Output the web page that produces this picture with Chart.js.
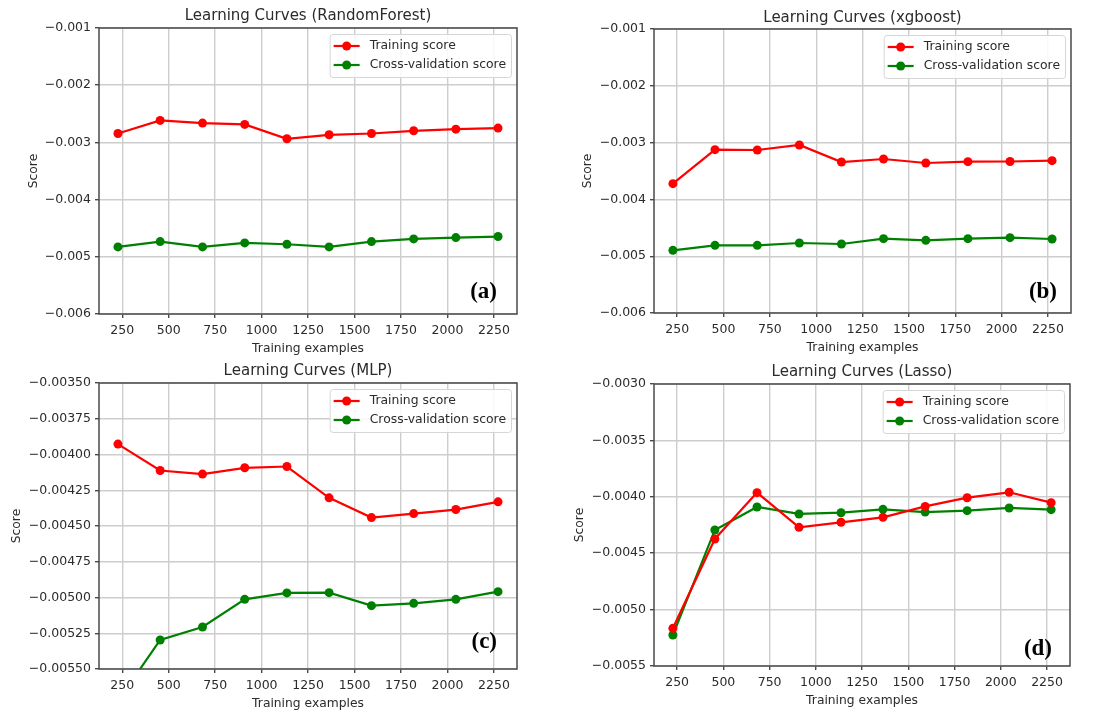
<!DOCTYPE html>
<html>
<head>
<meta charset="utf-8">
<script src="https://cdn.jsdelivr.net/npm/chart.js@4/dist/chart.umd.min.js"></script>
<style>
    body { margin: 0; background: #fff; width: 1096px; height: 713px; position: relative; overflow: hidden; }
    canvas { position: absolute; }
</style>
</head>
<body>
<canvas id="rf" width="548" height="357" style="left:0;top:0"></canvas>
<canvas id="xgb" width="548" height="357" style="left:548px;top:0"></canvas>
<canvas id="mlp" width="548" height="357" style="left:0;top:356px"></canvas>
<canvas id="lasso" width="548" height="357" style="left:548px;top:356px"></canvas>
<script>
"use strict";

// training set sizes (shared by all four panels)
const trainSizes = [227, 454, 682, 909, 1136, 1363, 1591, 1818, 2045, 2272];
const xTicks = [250, 500, 750, 1000, 1250, 1500, 1750, 2000, 2250];

// (a) RandomForest
const rfTrain = [-0.002844, -0.002616, -0.002663, -0.002686, -0.002937, -0.002867, -0.002844, -0.002797, -0.002768, -0.00275];
const rfCv = [-0.004827, -0.004734, -0.004827, -0.004757, -0.004781, -0.004827, -0.004734, -0.004687, -0.004664, -0.004646];
const rfTicks = [-0.006, -0.005, -0.004, -0.003, -0.002, -0.001];

// (b) xgboost
const xgbTrain = [-0.003723, -0.003124, -0.00313, -0.003042, -0.003342, -0.003289, -0.003359, -0.003336, -0.003333, -0.003318];
const xgbCv = [-0.004897, -0.004809, -0.004809, -0.004768, -0.004785, -0.004691, -0.004721, -0.004691, -0.004674, -0.004697];
const xgbTicks = [-0.006, -0.005, -0.004, -0.003, -0.002, -0.001];

// (c) MLP
const mlpTrain = [-0.003927, -0.004112, -0.004137, -0.004093, -0.004084, -0.004303, -0.004441, -0.004413, -0.004385, -0.004331];
const mlpCv = [-0.005724, -0.005297, -0.005206, -0.005013, -0.004968, -0.004966, -0.005057, -0.005041, -0.005013, -0.004959];
const mlpTicks = [-0.0055, -0.00525, -0.005, -0.00475, -0.0045, -0.00425, -0.004, -0.00375, -0.0035];

// (d) Lasso
const lassoTrain = [-0.005166, -0.004374, -0.003963, -0.004271, -0.004226, -0.004182, -0.004085, -0.004008, -0.00396, -0.004052];
const lassoCv = [-0.005225, -0.004294, -0.00409, -0.004152, -0.004141, -0.004111, -0.004135, -0.004123, -0.004099, -0.004114];
const lassoTicks = [-0.0055, -0.005, -0.0045, -0.004, -0.0035, -0.003];

const FONT = '"DejaVu Sans", sans-serif';
const TEXT = "#2b2b2b";
const GRID = "#cdcdcd";

const toPoints = (ys) => trainSizes.map((x, i) => ({x: x, y: ys[i]}));

// matplotlib-style legend inside the axes, upper right
const insideLegend = {
    id: "insideLegend",
    afterDatasetsDraw(chart) {
        const {ctx, chartArea} = chart;
        const sets = chart.data.datasets;
        ctx.save();
        ctx.font = "12.4px " + FONT;
        const textW = Math.max(...sets.map(d => ctx.measureText(d.label).width));
        const w = 45 + textW;
        const h = 43;
        const x0 = chartArea.right - 6 - w;
        const y0 = chartArea.top + 6;
        ctx.beginPath();
        ctx.roundRect(x0 + 0.5, y0 + 0.5, w, h, 3);
        ctx.fillStyle = "rgba(255,255,255,0.85)";
        ctx.fill();
        ctx.strokeStyle = "#d6d6d6";
        ctx.lineWidth = 1;
        ctx.stroke();
        sets.forEach((d, i) => {
            const cy = y0 + 12 + i * 19;
            ctx.strokeStyle = d.borderColor;
            ctx.lineWidth = 2.2;
            ctx.beginPath();
            ctx.moveTo(x0 + 4, cy);
            ctx.lineTo(x0 + 30, cy);
            ctx.stroke();
            ctx.fillStyle = d.backgroundColor;
            ctx.beginPath();
            ctx.arc(x0 + 17, cy, 4.5, 0, Math.PI * 2);
            ctx.fill();
            ctx.fillStyle = TEXT;
            ctx.textBaseline = "middle";
            ctx.fillText(d.label, x0 + 40, cy);
        });
        ctx.restore();
    },
};

// frame around the plot area plus the bold panel letter
const frameAndTag = {
    id: "frameAndTag",
    afterDraw(chart, args, opts) {
        const {ctx, chartArea} = chart;
        ctx.save();
        ctx.strokeStyle = "#4a4a4a";
        ctx.lineWidth = 1.5;
        ctx.strokeRect(chartArea.left, chartArea.top, chartArea.width, chartArea.height);
        ctx.font = 'bold 23px "Liberation Serif", "Times New Roman", serif';
        ctx.fillStyle = "#000";
        ctx.textAlign = "right";
        ctx.textBaseline = "middle";
        ctx.fillText(opts.tag, chartArea.right - opts.inset, chartArea.bottom - opts.rise);
        ctx.restore();
    },
};

const makePanel = (id, p) => {
    const fmt = (v) => v.toFixed(p.decimals).replace("-", "\u2212");
    new Chart(document.getElementById(id), {
        type: "line",
        data: {
            datasets: [
                {
                    label: "Training score",
                    data: toPoints(p.train),
                    borderColor: "#ff0000",
                    backgroundColor: "#ff0000",
                    borderWidth: 2.2,
                    pointRadius: 4.5,
                    pointBorderWidth: 0,
                },
                {
                    label: "Cross-validation score",
                    data: toPoints(p.cv),
                    borderColor: "#008000",
                    backgroundColor: "#008000",
                    borderWidth: 2.2,
                    pointRadius: 4.5,
                    pointBorderWidth: 0,
                },
            ],
        },
        options: {
            responsive: false,
            animation: false,
            layout: {padding: {left: 0, top: 0, right: p.padRight, bottom: 0}},
            plugins: {
                legend: {display: false},
                tooltip: {enabled: false},
                title: {
                    display: true,
                    fullSize: false,
                    text: p.title,
                    color: TEXT,
                    font: {family: FONT, size: 15, weight: "normal", lineHeight: 1.2},
                    padding: {top: p.titleY - 8, bottom: p.plotTop - p.titleY - 10},
                },
                frameAndTag: {tag: p.tag, inset: p.tagInset, rise: p.tagRise},
            },
            scales: {
                x: {
                    type: "linear",
                    min: 125,
                    max: 2374,
                    afterBuildTicks: (axis) => { axis.ticks = xTicks.map(v => ({value: v})); },
                    afterFit: (axis) => { axis.height = p.xHeight; },
                    grid: {color: GRID, lineWidth: 1.4, tickColor: "#4a4a4a", tickLength: 4},
                    border: {display: false},
                    ticks: {color: TEXT, font: {family: FONT, size: 12.5}, padding: 5, maxRotation: 0, callback: (v) => String(v)},
                    title: {
                        display: true,
                        text: "Training examples",
                        color: TEXT,
                        font: {family: FONT, size: 12.3, lineHeight: 1.2},
                        padding: {top: 0, bottom: p.xHeight - 35 - 7},
                    },
                },
                y: {
                    type: "linear",
                    min: p.ticks[0],
                    max: p.ticks[p.ticks.length - 1],
                    afterBuildTicks: (axis) => { axis.ticks = p.ticks.map(v => ({value: v})); },
                    afterFit: (axis) => { axis.width = p.yWidth; },
                    grid: {color: GRID, lineWidth: 1.4, tickColor: "#4a4a4a", tickLength: 4},
                    border: {display: false},
                    ticks: {color: TEXT, font: {family: FONT, size: 12.5}, padding: 4, callback: fmt},
                    title: {
                        display: true,
                        text: "Score",
                        color: TEXT,
                        font: {family: FONT, size: 12.3, lineHeight: 1.2},
                        padding: {top: p.scoreX - 7, bottom: 0},
                    },
                },
            },
        },
        plugins: [insideLegend, frameAndTag],
    });
};

makePanel("rf", {
    title: "Learning Curves (RandomForest)", tag: "(a)", train: rfTrain, cv: rfCv, ticks: rfTicks, decimals: 3,
    yWidth: 99, padRight: 31, xHeight: 43, plotTop: 28, titleY: 15, scoreX: 33, tagInset: 20, tagRise: 22,
});
makePanel("xgb", {
    title: "Learning Curves (xgboost)", tag: "(b)", train: xgbTrain, cv: xgbCv, ticks: xgbTicks, decimals: 3,
    yWidth: 106, padRight: 25, xHeight: 44, plotTop: 29, titleY: 17, scoreX: 39, tagInset: 14, tagRise: 21,
});
makePanel("mlp", {
    title: "Learning Curves (MLP)", tag: "(c)", train: mlpTrain, cv: mlpCv, ticks: mlpTicks, decimals: 5,
    yWidth: 99, padRight: 31, xHeight: 44, plotTop: 27, titleY: 14, scoreX: 16, tagInset: 20, tagRise: 27,
});
makePanel("lasso", {
    title: "Learning Curves (Lasso)", tag: "(d)", train: lassoTrain, cv: lassoCv, ticks: lassoTicks, decimals: 4,
    yWidth: 106, padRight: 26, xHeight: 47, plotTop: 28, titleY: 15, scoreX: 31, tagInset: 18, tagRise: 17,
});
</script>
</body>
</html>
